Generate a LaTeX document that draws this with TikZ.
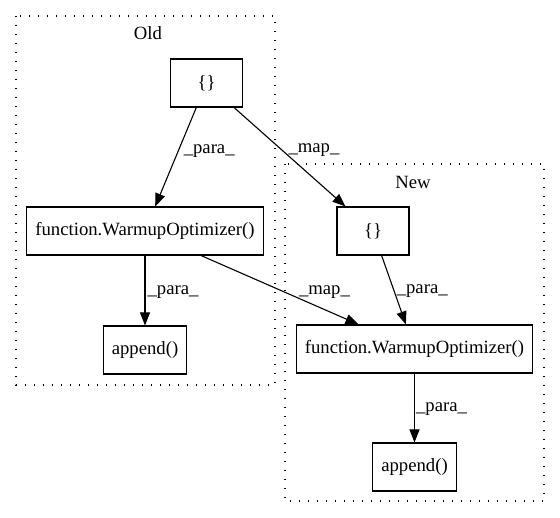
\documentclass[tikz,border=0pt]{standalone}
\usepackage{fontspec}
\setmainfont{Liberation Serif}
\usetikzlibrary{arrows.meta}
\begin{document}
\begin{tikzpicture}[x=1pt,y=-1pt,font=\fontsize{18.7}{22}\selectfont]
   \tikzstyle{box} = [draw, line width=1.1pt, minimum height=48pt, minimum width=72pt, inner xsep=8.5pt]
   \tikzstyle{line} = [draw, line width=1.1pt, -{Triangle[length=13pt,width=10pt]}]
   \tikzstyle{lbl} = [anchor=west, inner sep=1pt]
   \tikzstyle{cluster} = [draw, line width=1.3pt, dash pattern=on 1.4pt off 7.6pt]
   \useasboundingbox (0,0) rectangle (560,518);

   \draw[cluster] (16,16) rectangle (275,385);
   \draw[cluster] (285,164) rectangle (544,501);
   \node (old) at (148,33) {Old};
   \node (new) at (413,182) {New};

   \node[box] (obrace) at (206.5,83) {\{\}};
   \node[box] (owarm) at (145,231) {function.WarmupOptimizer()};
   \node[box] (oappend) at (145,350) {append()};
   \node[box] (nbrace) at (373,231) {\{\}};
   \node[box] (nwarm) at (414.5,349) {function.WarmupOptimizer()};
   \node[box] (nappend) at (414.5,467) {append()};

   \path [line] (obrace) -- node[lbl, pos=0.44, xshift=4pt] {\_para\_} (owarm);
   \path [line] (obrace) -- node[lbl, pos=0.43, xshift=5pt] {\_map\_} (nbrace);
   \path [line] (owarm) -- node[lbl, pos=0.52, xshift=1pt] {\_para\_} (oappend);
   \path [line] (owarm) -- node[lbl, pos=0.53, xshift=13pt] {\_map\_} (nwarm);
   \path [line] (nbrace) -- node[lbl, pos=0.52, xshift=1pt] {\_para\_} (nwarm);
   \path [line] (nwarm) -- node[lbl, pos=0.52, xshift=0pt] {\_para\_} (nappend);

 \end{tikzpicture}
\end{document}
